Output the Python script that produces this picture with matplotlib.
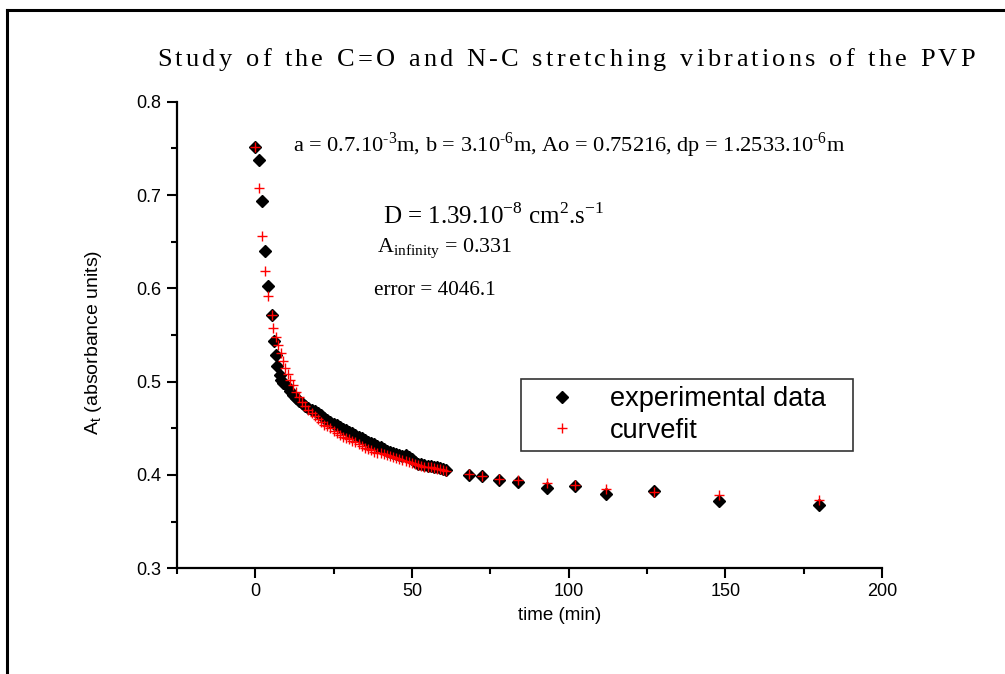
import matplotlib
matplotlib.use("Agg")
import matplotlib.pyplot as plt
from matplotlib.font_manager import FontProperties
from matplotlib.lines import Line2D

# experimental absorbance vs time (black diamonds)
exp_time = [0, 1.3, 2.2, 3.2, 4.2, 5.2, 6.0, 6.6, 7.1, 7.8, 8.3, 9, 10, 11, 12, 13, 14,
            15, 16, 17, 18, 19, 20, 21, 22, 23, 24, 25, 26, 27, 28, 29, 30, 31, 32, 33,
            34, 35, 36, 37, 38, 39, 40, 41, 42, 43, 44, 45, 46, 47, 48, 49, 50, 51, 52,
            53, 54, 55, 56, 57, 58, 59, 60, 61,
            68.3, 72.5, 77.8, 84, 93, 102, 112, 127.2, 148, 180]
exp_abs = [0.752, 0.738, 0.694, 0.640, 0.603, 0.571, 0.544, 0.529, 0.517, 0.507, 0.502,
           0.499, 0.495, 0.490, 0.486, 0.482, 0.479, 0.477, 0.474, 0.472, 0.470, 0.468,
           0.466, 0.464, 0.461, 0.459, 0.457, 0.455, 0.453, 0.451, 0.449, 0.448, 0.446,
           0.445, 0.443, 0.441, 0.440, 0.437, 0.435, 0.434, 0.433, 0.431, 0.430, 0.428,
           0.426, 0.425, 0.424, 0.422, 0.421, 0.420, 0.421, 0.419, 0.417, 0.414, 0.412,
           0.412, 0.411, 0.410, 0.410, 0.409, 0.408, 0.407, 0.406, 0.405,
           0.400, 0.399, 0.394, 0.392, 0.386, 0.388, 0.379, 0.383, 0.372, 0.368]

# fitted curve (red crosses)
fit_time = [0, 1.05, 2.1, 3.1, 4.2, 5.2, 5.8, 6.5, 7.3, 8.2, 8.9, 9.6, 10.4, 11.2, 12,
            13, 14, 15, 16, 17, 18, 19, 20, 21, 22, 23, 24, 25, 26, 27, 28, 29, 30, 31,
            32, 33, 34, 35, 36, 37, 38, 39, 40, 41, 42, 43, 44, 45, 46, 47, 48, 49, 50,
            51, 52, 53, 54, 55, 56, 57, 58, 59, 60, 61,
            68.3, 72.5, 77.8, 84, 93, 102, 112, 127.2, 148, 180]
fit_abs = [0.752, 0.708, 0.656, 0.619, 0.592, 0.571, 0.558, 0.548, 0.539, 0.531, 0.522,
           0.515, 0.508, 0.502, 0.496, 0.489, 0.483, 0.478, 0.474, 0.470, 0.466, 0.463,
           0.460, 0.457, 0.454, 0.452, 0.450, 0.447, 0.445, 0.443, 0.441, 0.440, 0.438,
           0.436, 0.435, 0.433, 0.431, 0.429, 0.428, 0.427, 0.425, 0.424, 0.423, 0.422,
           0.421, 0.420, 0.419, 0.418, 0.417, 0.416, 0.415, 0.414, 0.413, 0.412, 0.411,
           0.410, 0.409, 0.409, 0.408, 0.407, 0.406, 0.406, 0.405, 0.404,
           0.401, 0.399, 0.396, 0.394, 0.391, 0.389, 0.385, 0.3815, 0.378, 0.373]

x_major = [0, 50, 100, 150, 200]
x_minor = [-25, 25, 75, 125, 175]
y_major = [0.3, 0.4, 0.5, 0.6, 0.7, 0.8]
y_minor = [0.35, 0.45, 0.55, 0.65, 0.75]

TITLE = "Study of the C=O and N-C stretching vibrations of the PVP"
SERIF = "Liberation Serif"
SANS = "Liberation Sans"
plt.rcParams["font.family"] = SANS
plt.rcParams["mathtext.fontset"] = "custom"
plt.rcParams["mathtext.rm"] = SERIF
plt.rcParams["mathtext.sf"] = SANS

W, H = 1005, 674
fig = plt.figure(figsize=(W / 100, H / 100), dpi=100)
ax = fig.add_axes([0.176, 0.157, 0.7015, 0.692])

ax.plot(exp_time, exp_abs, linestyle="none", marker="D", ms=6.5, color="black",
        label="experimental data")
ax.plot(fit_time, fit_abs, linestyle="none", marker="+", ms=7, mew=1.0, color="red",
        label="curvefit")

ax.set_xlim(-25, 200)
ax.set_ylim(0.3, 0.8)
ax.set_xticks(x_major)
ax.set_xticks(x_minor, minor=True)
ax.set_yticks(y_major)
ax.set_yticks(y_minor, minor=True)
ax.set_yticklabels([f"{v:.1f}" for v in y_major])
for s in ("top", "right"):
    ax.spines[s].set_visible(False)
for s in ("left", "bottom"):
    ax.spines[s].set_linewidth(1.6)
ax.tick_params(which="major", direction="out", length=7, width=1.5, labelsize=13, pad=4)
ax.tick_params(which="minor", direction="out", length=4.5, width=1.5)

ax.set_xlabel("time (min)", fontsize=13.5)
ax.xaxis.set_label_coords(0.543, -0.083)
ax.set_ylabel(r"A$_{\mathsf{t}}$ (absorbance units)", fontsize=14)
ax.yaxis.set_label_coords(-0.104, 0.485)

leg = ax.legend(loc="upper left", bbox_to_anchor=(0.488, 0.256, 0.471, 0.15),
                mode="expand", fontsize=19.5, frameon=True, fancybox=False,
                handletextpad=0.5, borderpad=0.28, labelspacing=0.2,
                handlelength=2.5, borderaxespad=0)
leg.get_frame().set_edgecolor("black")
leg.get_frame().set_linewidth(1.2)

# title is letter-spaced in the original: place glyphs one by one
renderer = fig.canvas.get_renderer()
fp = FontProperties(family=SERIF, size=19)
ref_w = renderer.get_text_width_height_descent("l", fp, ismath=False)[0]


def text_w(t):
    return renderer.get_text_width_height_descent(t + "l", fp, ismath=False)[0] - ref_w


title_px = 818
track = (title_px - text_w(TITLE)) / (len(TITLE) - 1)
x0 = 566 - title_px / 2
for i, ch in enumerate(TITLE):
    if ch == " ":
        continue
    fig.text((x0 + text_w(TITLE[:i]) + i * track) / W, 1 - 66 / H, ch,
             fontproperties=fp, va="baseline", ha="left")

ax.text(0.1645, 0.893,
        r"a = 0.7.10$^{\mathrm{‐3}}$m, b = 3.10$^{\mathrm{‐6}}$m, Ao = 0.75216, "
        r"dp = 1.2533.10$^{\mathrm{‐6}}$m",
        transform=ax.transAxes, family=SERIF, fontsize=16.1, va="baseline")
ax.text(0.292, 0.738, r"D = 1.39.10$^{\mathrm{-8}}$ cm$^{\mathrm{2}}$.s$^{\mathrm{-1}}$",
        transform=ax.transAxes, family=SERIF, fontsize=18, va="baseline")
ax.text(0.284, 0.676, r"A$_{\mathrm{infinity}}$ = 0.331",
        transform=ax.transAxes, family=SERIF, fontsize=15.8, va="baseline")
ax.text(0.279, 0.586, "error = 4046.1",
        transform=ax.transAxes, family=SERIF, fontsize=15.3, va="baseline")

# page frame (left and top edges visible)
fig.add_artist(Line2D([0.007, 0.007], [0.0, 0.985], transform=fig.transFigure,
                      color="black", lw=2.2))
fig.add_artist(Line2D([0.007, 1.0], [0.985, 0.985], transform=fig.transFigure,
                      color="black", lw=2.2))

fig.savefig("out.png", dpi=100)
